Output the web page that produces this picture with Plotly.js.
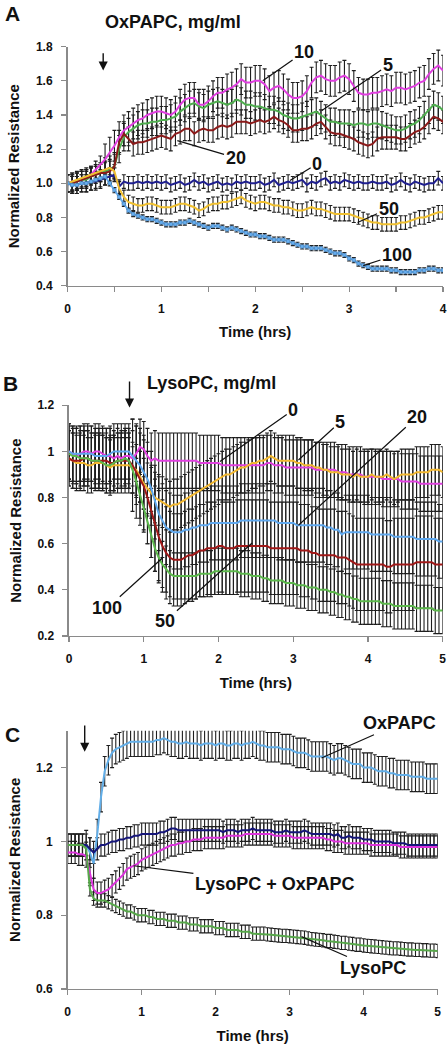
<!DOCTYPE html>
<html>
<head>
<meta charset="utf-8">
<script src="https://cdn.plot.ly/plotly-3.0.1.min.js"></script>
<style>
html,body{margin:0;padding:0;background:#fff;}
#chart{width:448px;height:1047px;}
</style>
</head>
<body>
<div id="chart"></div>
<script>
// ---------------- Panel A : OxPAPC (0–4 h, every 0.05 h) ----------------
const aStep = 0.05;
const aTreat = 0.38;
const aNames = ['10', '5', '20', '0', '50', '100'];
const aColors = ['#e03ee0', '#4fae4f', '#8b1a1a', '#1f1f8f', '#f0c030', '#66aef0'];
const aErrPre = 0.05;
const aErrPost = [0.09, 0.08, 0.07, 0.04, 0.04, 0.015];
const a10 = [
 1.00,1.01,1.01,1.02,1.03,1.05,1.08,1.11,1.14,1.18,
 1.22,1.27,1.31,1.33,1.35,1.37,1.38,1.40,1.41,1.42,
 1.42,1.41,1.40,1.42,1.46,1.49,1.50,1.50,1.46,1.46,
 1.48,1.51,1.53,1.53,1.55,1.56,1.58,1.61,1.59,1.59,
 1.60,1.60,1.58,1.54,1.56,1.57,1.55,1.52,1.50,1.50,
 1.51,1.54,1.59,1.62,1.63,1.61,1.60,1.60,1.62,1.63,
 1.61,1.57,1.53,1.52,1.52,1.53,1.53,1.54,1.55,1.54,
 1.56,1.56,1.55,1.56,1.57,1.59,1.60,1.64,1.67,1.69,
 1.66];
const a5 = [
 1.00,1.00,1.01,1.02,1.02,1.04,1.05,1.06,1.07,1.08,
 1.10,1.20,1.27,1.30,1.32,1.34,1.35,1.35,1.36,1.36,
 1.37,1.37,1.38,1.39,1.42,1.44,1.46,1.47,1.45,1.44,
 1.46,1.47,1.48,1.47,1.46,1.47,1.49,1.48,1.46,1.46,
 1.45,1.45,1.44,1.43,1.43,1.42,1.40,1.39,1.38,1.38,
 1.39,1.40,1.41,1.42,1.40,1.38,1.36,1.36,1.35,1.35,
 1.35,1.34,1.35,1.35,1.34,1.35,1.35,1.34,1.33,1.32,
 1.31,1.31,1.32,1.34,1.35,1.37,1.40,1.43,1.46,1.45,
 1.43];
const a20 = [
 1.00,1.00,1.01,1.02,1.03,1.04,1.05,1.06,1.06,1.07,
 1.10,1.24,1.29,1.26,1.23,1.24,1.24,1.25,1.26,1.27,
 1.28,1.27,1.26,1.29,1.30,1.32,1.32,1.29,1.31,1.32,
 1.31,1.31,1.33,1.34,1.33,1.34,1.36,1.36,1.36,1.35,
 1.36,1.37,1.36,1.37,1.39,1.37,1.36,1.34,1.31,1.31,
 1.32,1.32,1.33,1.35,1.36,1.33,1.30,1.29,1.29,1.28,
 1.27,1.26,1.24,1.23,1.22,1.23,1.26,1.27,1.27,1.27,
 1.27,1.26,1.26,1.28,1.30,1.31,1.33,1.36,1.39,1.38,
 1.36];
const a0 = [
 1.00,0.99,0.99,1.00,1.00,1.01,1.01,1.02,1.03,1.04,
 1.05,0.98,1.01,1.00,1.00,1.01,1.00,1.01,1.00,1.01,
 1.00,1.01,0.99,1.00,1.01,0.99,1.00,1.02,1.00,1.01,
 0.99,1.00,1.01,0.99,1.00,0.99,1.01,1.00,1.01,1.00,
 1.00,1.01,0.99,1.00,1.02,0.99,1.00,1.01,1.00,1.01,
 1.02,0.99,1.01,1.00,1.02,1.03,1.00,1.01,1.00,1.02,
 1.01,1.00,1.01,1.00,1.00,1.01,1.00,1.00,1.01,0.99,
 1.00,1.02,1.00,0.99,1.01,1.00,0.99,1.00,1.00,1.03,
 1.00];
const a50 = [
 1.00,1.01,1.02,1.03,1.04,1.05,1.06,1.07,1.08,1.09,
 1.07,0.97,0.92,0.89,0.88,0.87,0.87,0.88,0.88,0.87,
 0.86,0.86,0.86,0.87,0.88,0.88,0.87,0.86,0.84,0.85,
 0.87,0.88,0.88,0.89,0.89,0.90,0.91,0.92,0.90,0.89,
 0.88,0.89,0.89,0.88,0.87,0.87,0.86,0.86,0.85,0.84,
 0.84,0.85,0.86,0.85,0.85,0.84,0.83,0.82,0.82,0.82,
 0.82,0.81,0.80,0.79,0.78,0.77,0.77,0.76,0.76,0.76,
 0.76,0.77,0.77,0.78,0.79,0.80,0.80,0.81,0.82,0.83,
 0.83];
const a100 = [
 1.00,0.99,0.99,1.00,1.00,1.01,1.02,1.03,1.04,1.00,
 0.96,0.92,0.88,0.84,0.82,0.81,0.80,0.79,0.79,0.78,
 0.77,0.76,0.76,0.76,0.77,0.77,0.78,0.77,0.76,0.75,
 0.74,0.75,0.75,0.74,0.73,0.74,0.73,0.72,0.71,0.70,
 0.70,0.69,0.69,0.68,0.67,0.67,0.67,0.66,0.65,0.64,
 0.63,0.63,0.62,0.62,0.62,0.61,0.60,0.59,0.59,0.58,
 0.56,0.55,0.53,0.52,0.51,0.50,0.50,0.50,0.50,0.49,
 0.49,0.48,0.48,0.48,0.48,0.49,0.49,0.50,0.50,0.49,
 0.49];

// ---------------- Panel B : LysoPC (0–5 h, every 0.05 h) ----------------
const bTreat = 0.81;
const bNames = ['0', '5', '20', '50', '100'];
const bColors = ['#e040e0', '#f2b830', '#5fa8ee', '#a01818', '#5cb84c'];
const bErrPre = 0.12;
const bErrPost = [0.12, 0.11, 0.16, 0.20, 0.10];
const b0 = [
 1.00,0.99,0.98,0.99,1.00,1.00,0.99,1.00,1.00,0.99,
 0.98,0.98,0.97,0.98,0.97,0.98,0.98,0.97,0.99,1.02,
 1.01,0.98,0.96,0.97,0.96,0.96,0.96,0.96,0.96,0.96,
 0.96,0.96,0.96,0.96,0.96,0.95,0.95,0.95,0.95,0.95,
 0.95,0.94,0.94,0.94,0.94,0.94,0.94,0.94,0.94,0.94,
 0.94,0.94,0.94,0.95,0.95,0.94,0.94,0.94,0.93,0.93,
 0.93,0.93,0.93,0.93,0.93,0.93,0.92,0.92,0.92,0.92,
 0.92,0.92,0.91,0.91,0.91,0.90,0.90,0.90,0.90,0.89,
 0.89,0.89,0.89,0.89,0.88,0.88,0.88,0.88,0.88,0.87,
 0.87,0.87,0.87,0.87,0.86,0.86,0.86,0.86,0.86,0.86,
 0.86];
const b5 = [
 0.97,0.96,0.95,0.95,0.95,0.94,0.94,0.95,0.95,0.95,
 0.94,0.93,0.94,0.94,0.94,0.94,0.94,0.93,0.92,0.89,
 0.86,0.84,0.82,0.80,0.79,0.78,0.77,0.76,0.77,0.77,
 0.78,0.79,0.80,0.81,0.82,0.83,0.84,0.85,0.86,0.87,
 0.88,0.89,0.90,0.90,0.91,0.92,0.93,0.93,0.94,0.95,
 0.95,0.96,0.96,0.97,0.98,0.97,0.96,0.96,0.96,0.96,
 0.96,0.95,0.95,0.94,0.94,0.94,0.93,0.93,0.92,0.92,
 0.91,0.91,0.91,0.90,0.90,0.90,0.89,0.90,0.89,0.89,
 0.89,0.90,0.89,0.89,0.89,0.90,0.89,0.88,0.89,0.90,
 0.90,0.90,0.90,0.91,0.91,0.91,0.91,0.92,0.92,0.92,
 0.91];
const b20 = [
 1.00,0.99,0.99,0.99,0.99,0.99,0.99,0.98,0.98,0.98,
 0.98,0.99,1.00,1.00,1.00,1.00,1.00,0.98,0.96,0.94,
 0.91,0.88,0.84,0.78,0.73,0.70,0.67,0.66,0.65,0.65,
 0.65,0.66,0.66,0.67,0.67,0.68,0.68,0.68,0.69,0.69,
 0.69,0.69,0.69,0.69,0.69,0.69,0.70,0.70,0.70,0.70,
 0.70,0.70,0.70,0.70,0.70,0.70,0.69,0.69,0.69,0.69,
 0.69,0.68,0.68,0.68,0.68,0.68,0.68,0.68,0.68,0.67,
 0.67,0.66,0.66,0.64,0.65,0.65,0.65,0.65,0.65,0.65,
 0.65,0.64,0.64,0.64,0.64,0.64,0.64,0.63,0.63,0.63,
 0.63,0.63,0.63,0.62,0.62,0.62,0.62,0.62,0.62,0.61,
 0.61];
const b50 = [
 0.97,0.96,0.96,0.96,0.97,0.97,0.96,0.96,0.96,0.96,
 0.96,0.95,0.95,0.96,0.96,0.96,0.96,0.94,0.91,0.88,
 0.85,0.80,0.74,0.68,0.63,0.59,0.56,0.54,0.53,0.53,
 0.53,0.54,0.55,0.55,0.56,0.57,0.57,0.58,0.58,0.58,
 0.59,0.59,0.58,0.58,0.58,0.59,0.59,0.59,0.59,0.59,
 0.59,0.59,0.59,0.59,0.58,0.58,0.58,0.58,0.58,0.58,
 0.58,0.58,0.57,0.57,0.57,0.56,0.56,0.55,0.55,0.55,
 0.55,0.55,0.54,0.54,0.54,0.53,0.52,0.51,0.51,0.51,
 0.51,0.51,0.51,0.51,0.51,0.50,0.50,0.51,0.51,0.51,
 0.51,0.51,0.51,0.52,0.52,0.52,0.52,0.52,0.51,0.51,
 0.51];
const b100 = [
 0.99,0.98,0.98,0.97,0.97,0.97,0.96,0.96,0.96,0.95,
 0.94,0.94,0.95,0.96,0.96,0.97,0.96,0.92,0.87,0.81,
 0.76,0.70,0.64,0.58,0.54,0.51,0.49,0.47,0.46,0.46,
 0.46,0.46,0.46,0.46,0.46,0.47,0.47,0.47,0.47,0.48,
 0.48,0.48,0.48,0.48,0.48,0.48,0.47,0.47,0.47,0.46,
 0.46,0.46,0.45,0.45,0.44,0.44,0.44,0.44,0.43,0.43,
 0.43,0.42,0.42,0.42,0.41,0.41,0.41,0.40,0.40,0.40,
 0.39,0.39,0.38,0.38,0.37,0.37,0.36,0.36,0.35,0.35,
 0.35,0.35,0.35,0.35,0.34,0.34,0.34,0.33,0.33,0.33,
 0.33,0.33,0.33,0.32,0.32,0.32,0.32,0.32,0.31,0.31,
 0.31];

// ---------------- Panel C : combinations (0–5 h, every 0.05 h) ----------------
const cTreat = 0.23;
const cNames = ['OxPAPC', 'Control', 'LysoPC + OxPAPC', 'LysoPC'];
const cColors = ['#62aee8', '#16167a', '#dd33dd', '#57a84a'];
const cErrPre = 0.03;
const cErrPost = [0.04, 0.03, 0.03, 0.018];
const cOx = [
 0.99,0.99,0.99,0.99,0.99,0.99,0.97,0.94,1.02,1.12,
 1.19,1.22,1.24,1.25,1.255,1.26,1.265,1.27,1.27,1.27,
 1.27,1.27,1.27,1.27,1.275,1.275,1.28,1.275,1.27,1.27,
 1.265,1.265,1.27,1.265,1.265,1.265,1.26,1.265,1.265,1.265,
 1.26,1.265,1.265,1.26,1.26,1.265,1.265,1.26,1.265,1.265,
 1.27,1.265,1.26,1.26,1.255,1.255,1.255,1.255,1.25,1.25,
 1.25,1.245,1.24,1.24,1.24,1.235,1.23,1.23,1.23,1.23,
 1.23,1.225,1.22,1.225,1.225,1.22,1.215,1.21,1.21,1.21,
 1.20,1.20,1.20,1.195,1.19,1.19,1.19,1.185,1.185,1.18,
 1.18,1.18,1.18,1.175,1.175,1.175,1.175,1.17,1.17,1.17,
 1.17];
const cCtrl = [
 0.99,0.99,0.99,0.99,0.99,0.99,0.98,0.97,0.98,0.99,
 0.99,0.995,1.0,1.0,1.005,1.005,1.01,1.01,1.015,1.015,
 1.02,1.02,1.02,1.02,1.02,1.025,1.025,1.03,1.035,1.035,
 1.03,1.03,1.03,1.03,1.03,1.03,1.03,1.03,1.03,1.03,
 1.03,1.03,1.025,1.03,1.03,1.03,1.025,1.03,1.03,1.03,
 1.035,1.03,1.03,1.03,1.03,1.03,1.025,1.025,1.025,1.03,
 1.025,1.025,1.025,1.025,1.03,1.025,1.02,1.02,1.02,1.02,
 1.02,1.02,1.015,1.02,1.01,1.01,1.015,1.01,1.01,1.01,
 1.005,1.005,1.005,1.0,1.0,1.0,1.0,1.0,0.995,0.995,
 0.995,0.995,0.99,0.99,0.99,0.99,0.99,0.99,0.99,0.99,
 0.99];
const cLysoOx = [
 0.97,0.97,0.97,0.965,0.965,0.96,0.91,0.87,0.86,0.86,
 0.865,0.87,0.88,0.89,0.90,0.91,0.925,0.93,0.935,0.94,
 0.95,0.955,0.96,0.965,0.97,0.975,0.98,0.985,0.99,0.99,
 0.995,0.995,1.0,1.0,1.005,1.005,1.005,1.01,1.01,1.01,
 1.01,1.01,1.01,1.015,1.015,1.015,1.015,1.015,1.02,1.02,
 1.02,1.02,1.02,1.02,1.02,1.02,1.015,1.015,1.015,1.015,
 1.015,1.01,1.01,1.01,1.01,1.01,1.01,1.01,1.01,1.01,
 1.005,1.005,1.0,1.0,1.0,0.995,0.995,0.995,0.995,0.995,
 0.995,0.995,0.99,0.99,0.99,0.99,0.99,0.99,0.99,0.99,
 0.985,0.985,0.985,0.985,0.985,0.985,0.985,0.985,0.985,0.985,
 0.985];
const cLyso = [
 0.99,0.99,0.99,0.99,0.99,0.98,0.87,0.845,0.84,0.84,
 0.84,0.835,0.83,0.825,0.82,0.815,0.81,0.81,0.805,0.80,
 0.80,0.80,0.795,0.795,0.79,0.79,0.79,0.785,0.785,0.785,
 0.78,0.78,0.78,0.775,0.775,0.775,0.77,0.77,0.77,0.77,
 0.765,0.765,0.765,0.76,0.76,0.76,0.76,0.755,0.755,0.755,
 0.75,0.75,0.75,0.75,0.748,0.747,0.746,0.745,0.744,0.744,
 0.743,0.742,0.741,0.74,0.739,0.737,0.735,0.734,0.733,0.732,
 0.73,0.73,0.728,0.727,0.725,0.725,0.723,0.722,0.72,0.72,
 0.718,0.717,0.716,0.715,0.714,0.713,0.712,0.711,0.71,0.71,
 0.709,0.708,0.707,0.707,0.706,0.706,0.705,0.705,0.704,0.704,
 0.703];

const FONT = 'Liberation Sans, Arial, Helvetica, sans-serif';
const ERR_COLOR = '#1e1e1e';
const AXIS_COLOR = '#8a8a8a';

function timeGrid(n, step) { return Array.from({length: n}, (_, i) => +(i * step).toFixed(3)); }
function errArray(t, treat, pre, post) { return t.map(v => (v < treat ? pre : post)); }

const traces = [];
function addPanel(seriesList, colors, names, treat, errPre, errPost, xa, ya, step, withMarkersIdx) {
  const t = timeGrid(seriesList[0].length, step);
  // error bars first, so that every coloured line sits on top of them
  seriesList.forEach((y, k) => {
    traces.push({
      x: t, y: y, xaxis: xa, yaxis: ya, type: 'scatter', mode: 'markers',
      marker: {size: 1, color: 'rgba(0,0,0,0)'}, hoverinfo: 'skip', showlegend: false,
      error_y: {type: 'data', array: errArray(t, treat, errPre, errPost[k]), visible: true,
                color: ERR_COLOR, thickness: 1.1, width: 2}
    });
  });
  seriesList.forEach((y, k) => {
    const tr = {
      x: t, y: y, xaxis: xa, yaxis: ya, type: 'scatter', name: names[k],
      mode: (withMarkersIdx === k) ? 'lines+markers' : 'lines',
      line: {color: colors[k], width: 2}, showlegend: false
    };
    if (withMarkersIdx === k) tr.marker = {size: 3.5, symbol: 'square', color: colors[k], line: {color: '#3a6fa0', width: 0.5}};
    traces.push(tr);
  });
}

addPanel([a10, a5, a20, a0, a50, a100], aColors, aNames, aTreat, aErrPre, aErrPost, 'x', 'y', aStep, 5);
addPanel([b0, b5, b20, b50, b100], bColors, bNames, bTreat, bErrPre, bErrPost, 'x2', 'y2', 0.05, -1);
addPanel([cOx, cCtrl, cLysoOx, cLyso], cColors, cNames, cTreat, cErrPre, cErrPost, 'x3', 'y3', 0.05, -1);

const tickFont = {family: FONT, size: 12, color: '#111', weight: 'bold'};
const titleFont = {family: FONT, size: 15, color: '#111', weight: 'bold'};
function xAxis(domain, range, anchor, minor) {
  const ax = {domain: domain, range: range, anchor: anchor, dtick: 1, tick0: 0,
    showline: true, linecolor: AXIS_COLOR, linewidth: 1.5, ticks: 'outside', ticklen: 5,
    tickcolor: AXIS_COLOR, tickwidth: 1.2, showgrid: false, zeroline: false, tickfont: tickFont,
    ticklabelstandoff: 6, automargin: false, fixedrange: true,
    title: {text: 'Time (hrs)', font: titleFont, standoff: 12}};
  if (minor) ax.minor = {dtick: 0.5, ticks: 'outside', ticklen: 5, tickcolor: AXIS_COLOR, tickwidth: 1.2, showgrid: false};
  return ax;
}
function yAxis(domain, range, anchor, fmt) {
  const ax = {domain: domain, range: range, anchor: anchor, dtick: 0.2, tick0: 0,
    showline: true, linecolor: AXIS_COLOR, linewidth: 1.5, ticks: 'outside', ticklen: 5,
    tickcolor: AXIS_COLOR, tickwidth: 1.2, showgrid: false, zeroline: false, tickfont: tickFont,
    ticklabelstandoff: 6, automargin: false, fixedrange: true,
    title: {text: 'Normalized Resistance', font: titleFont, standoff: 12}};
  if (fmt) ax.tickformat = fmt;
  return ax;
}

const labelFont = {family: FONT, size: 18, color: '#111', weight: 'bold'};
function callout(xr, yr, x, y, ax, ay, text) {
  return {xref: xr, yref: yr, x: x, y: y, axref: xr, ayref: yr, ax: ax, ay: ay, text: text,
    showarrow: true, arrowhead: 0, arrowwidth: 1.2, arrowcolor: '#111', standoff: 0,
    font: labelFont, xanchor: 'center', yanchor: 'middle'};
}
function dropArrow(xr, yr, x, yTip, yTail) {
  return {xref: xr, yref: yr, x: x, y: yTip, axref: xr, ayref: yr, ax: x, ay: yTail, text: '',
    showarrow: true, arrowhead: 2, arrowsize: 1.3, arrowwidth: 1.4, arrowcolor: '#111'};
}
function paperText(px, py, text, size) {
  return {xref: 'paper', yref: 'paper', x: px / 448, y: 1 - py / 1047, text: text, showarrow: false,
    font: {family: FONT, size: size, color: '#111', weight: 'bold'}, xanchor: 'center', yanchor: 'middle'};
}

const annotations = [
  paperText(12, 13, 'A', 21), paperText(173, 22, 'OxPAPC, mg/ml', 18),
  paperText(10, 383, 'B', 21), paperText(211, 383, 'LysoPC, mg/ml', 18),
  paperText(12, 734, 'C', 21),
  dropArrow('x', 'y', aTreat, 1.66, 1.77),
  dropArrow('x2', 'y2', bTreat, 1.19, 1.31),
  dropArrow('x3', 'y3', cTreat, 1.243, 1.318),
  callout('x', 'y', 2.08, 1.60, 2.52, 1.77, aNames[0]),
  callout('x', 'y', 2.71, 1.426, 3.41, 1.69, aNames[1]),
  callout('x', 'y', 1.17, 1.25, 1.79, 1.15, aNames[2]),
  callout('x', 'y', 2.37, 1.016, 2.66, 1.115, aNames[3]),
  callout('x', 'y', 3.09, 0.77, 3.42, 0.852, aNames[4]),
  callout('x', 'y', 3.15, 0.518, 3.51, 0.582, aNames[5]),
  callout('x2', 'y2', 2.02, 0.956, 3.0, 1.18, bNames[0]),
  callout('x2', 'y2', 3.07, 0.963, 3.63, 1.128, bNames[1]),
  callout('x2', 'y2', 3.07, 0.68, 4.66, 1.15, bNames[2]),
  callout('x2', 'y2', 2.45, 0.603, 1.29, 0.264, bNames[3]),
  callout('x2', 'y2', 1.25, 0.538, 0.51, 0.32, bNames[4]),
  callout('x3', 'y3', 3.43, 1.226, 4.49, 1.32, cNames[0]),
  callout('x3', 'y3', 0.89, 0.934, 2.80, 0.885, cNames[2]),
  callout('x3', 'y3', 3.16, 0.742, 4.13, 0.657, cNames[3])
];

const layout = {
  width: 448, height: 1047,
  margin: {l: 0, r: 0, t: 0, b: 0},
  paper_bgcolor: '#fff', plot_bgcolor: '#fff',
  showlegend: false,
  font: {family: FONT, color: '#111'},
  xaxis: xAxis([0.1507, 0.9888], [0, 4], 'y', true),
  yaxis: yAxis([0.7271, 0.9554], [0.4, 1.8], 'x', '.1f'),
  xaxis2: xAxis([0.1540, 0.9882], [0, 5], 'y2', false),
  yaxis2: yAxis([0.3926, 0.6129], [0.2, 1.2], 'x2', null),
  xaxis3: xAxis([0.1511, 0.9770], [0, 5], 'y3', false),
  yaxis3: yAxis([0.0554, 0.3021], [0.6, 1.3], 'x3', null),
  annotations: annotations
};

Plotly.newPlot('chart', traces, layout, {displayModeBar: false, staticPlot: true});
</script>
</body>
</html>
